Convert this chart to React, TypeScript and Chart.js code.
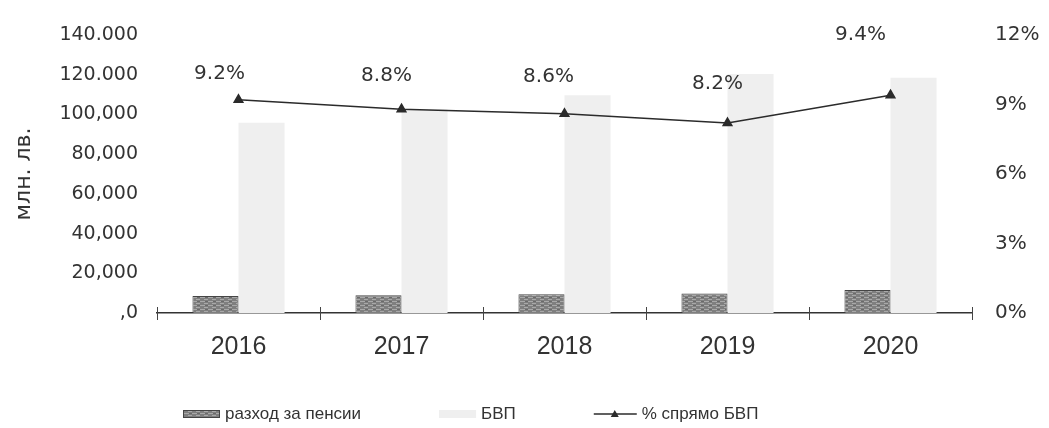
import React, { useEffect, useRef } from "react";
import { Chart, registerables } from "chart.js";

Chart.register(...registerables);

// ---- data ----
const years = ["2016", "2017", "2018", "2019", "2020"];
const pensionSpending = [8500, 8900, 9500, 9800, 11600];
const gdp = [95800, 102500, 109600, 120300, 118500];
const pensionShareOfGdp = [9.2, 8.8, 8.6, 8.2, 9.4];
const leftTickLabels = [",0", "20,000", "40,000", "60,000", "80,000", "100,000", "120.000", "140.000"];
const rightTickLabels = ["0%", "3%", "6%", "9%", "12%"];
const seriesNames = ["разход за пенсии", "БВП", "% спрямо БВП"];
const yAxisTitle = "млн. лв.";

// ---- styles ----
const TEXT = "#333333";
const PENSION_BASE = "#7f7f7f";
const PENSION_BORDER = "#454545";
const GDP_FILL = "#efefef";
const LINE_COLOR = "#2b2b2b";
// label offsets relative to each point (style only)
const labelOffsets = [
  [-19, -26],
  [-15, -33],
  [-16, -37],
  [-10, -39],
  [-30, -60],
];

function makePensionPattern(): CanvasPattern | string {
  const c = document.createElement("canvas");
  c.width = 8;
  c.height = 4;
  const g = c.getContext("2d");
  if (!g) return PENSION_BASE;
  g.fillStyle = PENSION_BASE;
  g.fillRect(0, 0, 8, 4);
  g.fillStyle = "#a9a9a9";
  g.fillRect(0, 1, 5, 1);
  g.fillRect(4, 3, 4, 1);
  g.fillStyle = "#6a6a6a";
  g.fillRect(5, 1, 3, 1);
  const p = g.createPattern(c, "repeat");
  return p || PENSION_BASE;
}

export default function App() {
  const canvasRef = useRef<HTMLCanvasElement | null>(null);

  useEffect(() => {
    if (!canvasRef.current) return;
    const pensionFill = makePensionPattern();

    const decorPlugin = {
      id: "decor",
      afterDraw(chart: any) {
        const { ctx, chartArea } = chart;
        const n = years.length;
        ctx.save();
        // category boundary tick marks crossing the x axis
        ctx.strokeStyle = "#444";
        ctx.lineWidth = 1;
        for (let i = 0; i <= n; i++) {
          const x = Math.round(chartArea.left + (i * (chartArea.right - chartArea.left)) / n) + 0.5;
          ctx.beginPath();
          ctx.moveTo(x, chartArea.bottom - 6);
          ctx.lineTo(x, chartArea.bottom + 7);
          ctx.stroke();
        }
        // data labels for the line
        const meta = chart.getDatasetMeta(2);
        ctx.fillStyle = TEXT;
        ctx.font = '20px "DejaVu Sans"';
        ctx.textAlign = "center";
        ctx.textBaseline = "middle";
        meta.data.forEach((pt: any, i: number) => {
          const [dx, dy] = labelOffsets[i];
          ctx.fillText(pensionShareOfGdp[i].toFixed(1) + "%", pt.x + dx, pt.y + dy);
        });
        // legend
        const ly = 414;
        let x = 183;
        const swW = 37;
        ctx.font = '17px "Liberation Sans"';
        ctx.textAlign = "left";
        ctx.textBaseline = "middle";
        for (let i = 0; i < 3; i++) {
          if (i === 0) {
            ctx.fillStyle = pensionFill;
            ctx.fillRect(x, ly - 4, swW, 8);
            ctx.strokeStyle = PENSION_BORDER;
            ctx.lineWidth = 1;
            ctx.strokeRect(x + 0.5, ly - 3.5, swW - 1, 7);
          } else if (i === 1) {
            ctx.fillStyle = GDP_FILL;
            ctx.fillRect(x, ly - 4, swW, 8);
          } else {
            ctx.strokeStyle = LINE_COLOR;
            ctx.lineWidth = 1.5;
            ctx.beginPath();
            ctx.moveTo(x, ly);
            ctx.lineTo(x + 43, ly);
            ctx.stroke();
            ctx.fillStyle = LINE_COLOR;
            ctx.beginPath();
            ctx.moveTo(x + 21, ly - 4);
            ctx.lineTo(x + 25, ly + 3);
            ctx.lineTo(x + 17, ly + 3);
            ctx.closePath();
            ctx.fill();
          }
          const sw = i === 2 ? 43 : swW;
          ctx.fillStyle = TEXT;
          ctx.fillText(seriesNames[i], x + sw + 5, ly);
          const tw = ctx.measureText(seriesNames[i]).width;
          x += sw + 5 + tw + 78;
        }
        ctx.restore();
      },
    };

    const chart = new Chart(canvasRef.current, {
      type: "bar",
      data: {
        labels: years,
        datasets: [
          {
            type: "bar",
            label: seriesNames[0],
            data: pensionSpending,
            backgroundColor: pensionFill,
            borderColor: PENSION_BORDER,
            borderWidth: 1,
            yAxisID: "y",
            order: 2,
            categoryPercentage: 0.565,
            barPercentage: 1.0,
          },
          {
            type: "bar",
            label: seriesNames[1],
            data: gdp,
            backgroundColor: GDP_FILL,
            borderWidth: 0,
            yAxisID: "y",
            order: 2,
            categoryPercentage: 0.565,
            barPercentage: 1.0,
          },
          {
            type: "line",
            label: seriesNames[2],
            data: pensionShareOfGdp,
            borderColor: LINE_COLOR,
            borderWidth: 1.5,
            pointStyle: "triangle",
            pointRadius: 5,
            pointBackgroundColor: LINE_COLOR,
            pointBorderColor: LINE_COLOR,
            yAxisID: "y1",
            order: 0,
            tension: 0,
          },
        ] as any,
      },
      options: {
        animation: false,
        responsive: true,
        maintainAspectRatio: false,
        layout: { padding: { top: 16, left: 0, right: 0, bottom: 0 } },
        plugins: {
          legend: { display: false },
          tooltip: { enabled: false },
        },
        scales: {
          x: {
            offset: true,
            grid: { display: false, drawTicks: false },
            border: { display: true, color: "#333", width: 1.5 },
            ticks: {
              color: TEXT,
              font: { family: "Liberation Sans", size: 25 },
              padding: 19,
            },
            afterFit: (s: any) => {
              s.height = 115;
            },
          },
          y: {
            position: "left",
            min: 0,
            max: 140000,
            grid: { display: false, drawTicks: false },
            border: { display: false },
            ticks: {
              stepSize: 20000,
              color: TEXT,
              font: { family: "DejaVu Sans", size: 19 },
              padding: 19,
              callback: (_v: any, i: number) => leftTickLabels[i],
            },
            title: {
              display: true,
              text: yAxisTitle,
              color: TEXT,
              font: { family: "DejaVu Sans", size: 22 },
              padding: { top: 11, bottom: 0 },
            },
            afterFit: (s: any) => {
              s.width = 157;
            },
          },
          y1: {
            position: "right",
            min: 0,
            max: 12,
            grid: { display: false, drawTicks: false },
            border: { display: false },
            ticks: {
              stepSize: 3,
              color: TEXT,
              font: { family: "DejaVu Sans", size: 20 },
              padding: 23,
              callback: (_v: any, i: number) => rightTickLabels[i],
            },
            afterFit: (s: any) => {
              s.width = 77;
            },
          },
        },
      } as any,
      plugins: [decorPlugin],
    });
    return () => chart.destroy();
  }, []);

  return (
    <div style={{ position: "absolute", left: 0, top: 0, width: 1049, height: 428, background: "#fff" }}>
      <canvas ref={canvasRef} />
    </div>
  );
}
